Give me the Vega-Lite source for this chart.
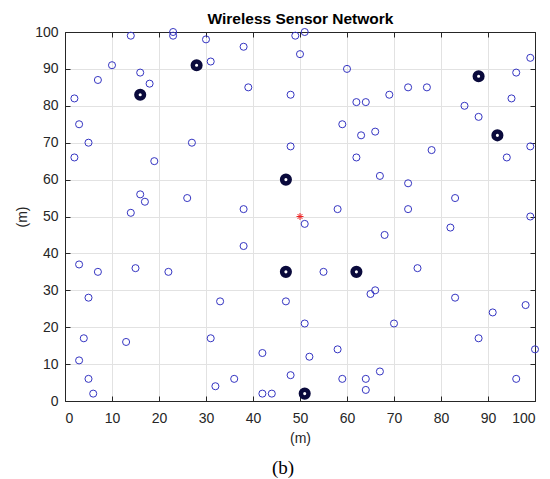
{
  "$schema": "https://vega.github.io/schema/vega-lite/v6.json",
  "autosize": "none",
  "width": 470,
  "height": 369,
  "padding": {"left": 65, "top": 32, "right": 15, "bottom": 78},
  "background": "white",
  "title": {"text": "(b)", "orient": "bottom", "font": "Liberation Serif", "fontSize": 19, "fontWeight": "normal", "color": "#000000", "dx": -17, "offset": 14},
  "config": {
    "view": {"stroke": "#262626", "strokeWidth": 1},
    "axis": {
      "labelFont": "Liberation Sans", "labelFontSize": 14, "labelColor": "#262626",
      "titleFont": "Liberation Sans", "titleFontSize": 14, "titleFontWeight": "normal", "titleColor": "#262626",
      "domainColor": "#262626", "tickColor": "#262626", "tickSize": -5, "gridColor": "#e2e2e2", "gridOpacity": 1
    }
  },
  "data": {"values": [
    {"x": 14, "y": 99, "type": "node"}, {"x": 23, "y": 100, "type": "node"}, {"x": 23, "y": 99, "type": "node"},
    {"x": 30, "y": 98, "type": "node"}, {"x": 38, "y": 96, "type": "node"}, {"x": 49, "y": 99, "type": "node"},
    {"x": 50, "y": 94, "type": "node"}, {"x": 51, "y": 100, "type": "node"}, {"x": 10, "y": 91, "type": "node"},
    {"x": 16, "y": 89, "type": "node"}, {"x": 7, "y": 87, "type": "node"}, {"x": 18, "y": 86, "type": "node"},
    {"x": 31, "y": 92, "type": "node"}, {"x": 39, "y": 85, "type": "node"}, {"x": 48, "y": 83, "type": "node"},
    {"x": 2, "y": 82, "type": "node"}, {"x": 3, "y": 75, "type": "node"}, {"x": 5, "y": 70, "type": "node"},
    {"x": 2, "y": 66, "type": "node"}, {"x": 27, "y": 70, "type": "node"}, {"x": 48, "y": 69, "type": "node"},
    {"x": 19, "y": 65, "type": "node"}, {"x": 16, "y": 56, "type": "node"}, {"x": 17, "y": 54, "type": "node"},
    {"x": 26, "y": 55, "type": "node"}, {"x": 14, "y": 51, "type": "node"}, {"x": 38, "y": 52, "type": "node"},
    {"x": 60, "y": 90, "type": "node"}, {"x": 62, "y": 81, "type": "node"}, {"x": 64, "y": 81, "type": "node"},
    {"x": 69, "y": 83, "type": "node"}, {"x": 73, "y": 85, "type": "node"}, {"x": 77, "y": 85, "type": "node"},
    {"x": 96, "y": 89, "type": "node"}, {"x": 99, "y": 93, "type": "node"}, {"x": 95, "y": 82, "type": "node"},
    {"x": 85, "y": 80, "type": "node"}, {"x": 88, "y": 77, "type": "node"}, {"x": 59, "y": 75, "type": "node"},
    {"x": 63, "y": 72, "type": "node"}, {"x": 66, "y": 73, "type": "node"}, {"x": 78, "y": 68, "type": "node"},
    {"x": 99, "y": 69, "type": "node"}, {"x": 62, "y": 66, "type": "node"}, {"x": 94, "y": 66, "type": "node"},
    {"x": 67, "y": 61, "type": "node"}, {"x": 73, "y": 59, "type": "node"}, {"x": 83, "y": 55, "type": "node"},
    {"x": 58, "y": 52, "type": "node"}, {"x": 73, "y": 52, "type": "node"}, {"x": 99, "y": 50, "type": "node"},
    {"x": 38, "y": 42, "type": "node"}, {"x": 3, "y": 37, "type": "node"}, {"x": 7, "y": 35, "type": "node"},
    {"x": 15, "y": 36, "type": "node"}, {"x": 22, "y": 35, "type": "node"}, {"x": 5, "y": 28, "type": "node"},
    {"x": 33, "y": 27, "type": "node"}, {"x": 47, "y": 27, "type": "node"}, {"x": 4, "y": 17, "type": "node"},
    {"x": 13, "y": 16, "type": "node"}, {"x": 31, "y": 17, "type": "node"}, {"x": 3, "y": 11, "type": "node"},
    {"x": 42, "y": 13, "type": "node"}, {"x": 5, "y": 6, "type": "node"}, {"x": 48, "y": 7, "type": "node"},
    {"x": 36, "y": 6, "type": "node"}, {"x": 32, "y": 4, "type": "node"}, {"x": 6, "y": 2, "type": "node"},
    {"x": 42, "y": 2, "type": "node"}, {"x": 44, "y": 2, "type": "node"}, {"x": 51, "y": 48, "type": "node"},
    {"x": 82, "y": 47, "type": "node"}, {"x": 68, "y": 45, "type": "node"}, {"x": 55, "y": 35, "type": "node"},
    {"x": 75, "y": 36, "type": "node"}, {"x": 65, "y": 29, "type": "node"}, {"x": 66, "y": 30, "type": "node"},
    {"x": 83, "y": 28, "type": "node"}, {"x": 98, "y": 26, "type": "node"}, {"x": 91, "y": 24, "type": "node"},
    {"x": 51, "y": 21, "type": "node"}, {"x": 70, "y": 21, "type": "node"}, {"x": 88, "y": 17, "type": "node"},
    {"x": 100, "y": 14, "type": "node"}, {"x": 58, "y": 14, "type": "node"}, {"x": 52, "y": 12, "type": "node"},
    {"x": 59, "y": 6, "type": "node"}, {"x": 64, "y": 6, "type": "node"}, {"x": 67, "y": 8, "type": "node"},
    {"x": 64, "y": 3, "type": "node"}, {"x": 96, "y": 6, "type": "node"},
    {"x": 16, "y": 83, "type": "ch"}, {"x": 28, "y": 91, "type": "ch"}, {"x": 88, "y": 88, "type": "ch"},
    {"x": 92, "y": 72, "type": "ch"}, {"x": 47, "y": 60, "type": "ch"}, {"x": 47, "y": 35, "type": "ch"},
    {"x": 62, "y": 35, "type": "ch"}, {"x": 51, "y": 2, "type": "ch"},
    {"x": 50, "y": 50, "type": "sink"}
  ]},
  "layer": [
    {
      "transform": [{"filter": "datum.type === 'node'"}],
      "mark": {"type": "point", "shape": "circle", "filled": false, "stroke": "#3535c2", "strokeWidth": 1, "size": 50, "opacity": 1},
      "encoding": {
        "x": {"field": "x", "type": "quantitative", "scale": {"domain": [0, 100], "nice": false},
              "axis": {"orient": "bottom", "values": [0,10,20,30,40,50,60,70,80,90,100], "title": "(m)", "grid": true, "labelPadding": 15, "titlePadding": 6}},
        "y": {"field": "y", "type": "quantitative", "scale": {"domain": [0, 100], "nice": false},
              "axis": {"orient": "left", "values": [0,10,20,30,40,50,60,70,80,90,100], "title": "(m)", "grid": true, "labelPadding": 12, "titlePadding": 5}}
      }
    },
    {
      "transform": [{"filter": "datum.type === 'ch'"}],
      "mark": {"type": "point", "shape": "circle", "filled": true, "fill": "#ffffff", "stroke": "#0a0a3c", "strokeWidth": 4.5, "size": 58, "opacity": 1},
      "encoding": {
        "x": {"field": "x", "type": "quantitative",
              "axis": {"orient": "top", "values": [0,10,20,30,40,50,60,70,80,90,100], "labels": false, "grid": false, "title": "Wireless Sensor Network", "titleFontWeight": "bold", "titleFontSize": 15.5, "titleColor": "#000000", "titlePadding": 5}},
        "y": {"field": "y", "type": "quantitative",
              "axis": {"orient": "right", "values": [0,10,20,30,40,50,60,70,80,90,100], "labels": false, "grid": false, "title": null}}
      }
    },
    {
      "transform": [{"filter": "datum.type === 'sink'"}],
      "mark": {"type": "point", "shape": "M0,-1L0,1M-1,0L1,0M-0.7,-0.7L0.7,0.7M-0.7,0.7L0.7,-0.7", "filled": false, "stroke": "#ee2222", "strokeWidth": 1, "size": 49, "opacity": 1},
      "encoding": {
        "x": {"field": "x", "type": "quantitative", "axis": null},
        "y": {"field": "y", "type": "quantitative", "axis": null}
      }
    }
  ],
  "resolve": {"axis": {"x": "independent", "y": "independent"}}
}
